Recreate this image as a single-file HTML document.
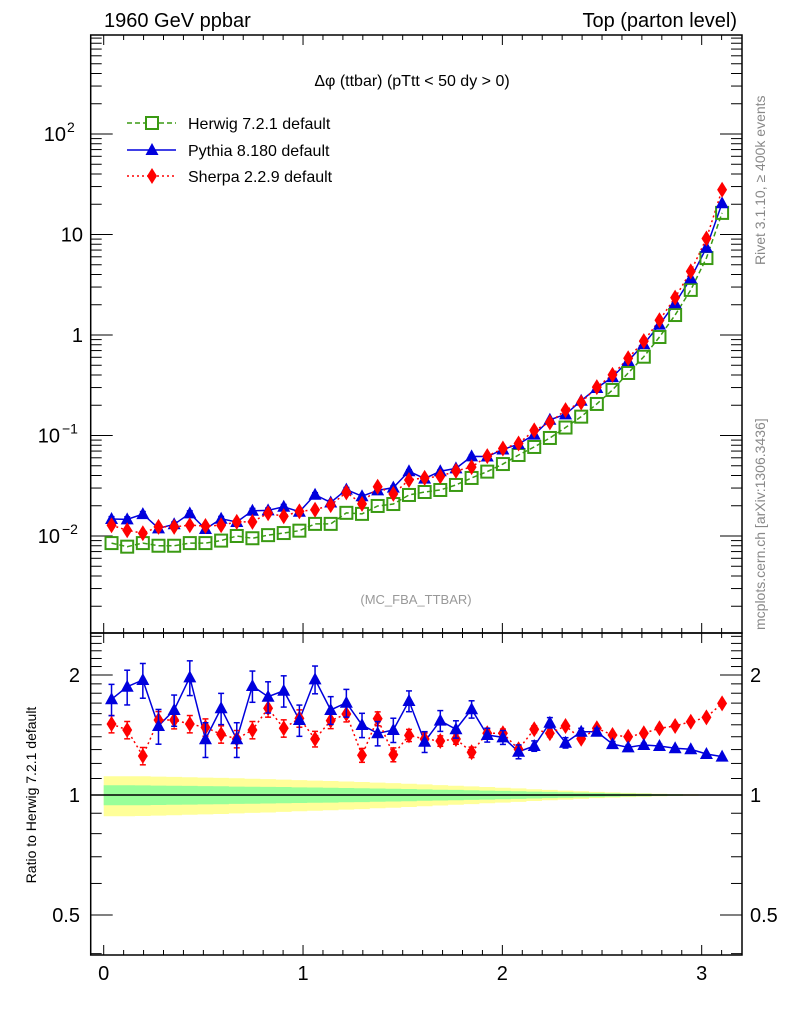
<!DOCTYPE html>
<html><head><meta charset="utf-8"><style>
html,body{margin:0;padding:0;background:#fff;}
svg{display:block;font-family:"Liberation Sans",sans-serif;}
</style></head><body>
<svg id="chart" width="786" height="1024" viewBox="0 0 786 1024" xmlns="http://www.w3.org/2000/svg">
<text x="104" y="27" font-size="20">1960 GeV ppbar</text>
<text x="737" y="27" font-size="20" text-anchor="end">Top (parton level)</text>
<text x="412" y="86" font-size="16" text-anchor="middle">Δφ (ttbar) (pTtt &lt; 50 dy &gt; 0)</text>
<text x="416" y="604" font-size="13" fill="#999" text-anchor="middle">(MC_FBA_TTBAR)</text>
<text transform="translate(765,265) rotate(-90)" font-size="14" fill="#888">Rivet 3.1.10, ≥ 400k events</text>
<text transform="translate(765,630) rotate(-90)" font-size="14" fill="#888">mcplots.cern.ch [arXiv:1306.3436]</text>
<text transform="translate(36,795) rotate(-90)" font-size="14" text-anchor="middle">Ratio to Herwig 7.2.1 default</text>
<g id="g"></g>
</svg>
<script>
const herwig=[0.0085,0.00783,0.0085,0.0080,0.0080,0.0085,0.0085,0.0090,0.0100,0.0095,0.0102,0.0107,0.0113,0.0132,0.0132,0.0170,0.0166,0.0199,0.0208,0.0256,0.0274,0.0287,0.0322,0.0378,0.0437,0.052,0.064,0.0769,0.0945,0.120,0.154,0.206,0.284,0.419,0.608,0.955,1.58,2.81,5.83,16.4];
const herwigStatErr=[0.058,0.058,0.057,0.056,0.055,0.054,0.053,0.052,0.050,0.049,0.048,0.047,0.045,0.044,0.043,0.041,0.040,0.038,0.037,0.035,0.033,0.031,0.030,0.028,0.026,0.024,0.022,0.020,0.018,0.016,0.014,0.012,0.010,0.008,0.007,0.005,0.004,0.003,0.002,0.001];
const herwigTotErr=[0.115,0.115,0.114,0.112,0.110,0.108,0.106,0.104,0.101,0.098,0.096,0.093,0.090,0.087,0.084,0.081,0.078,0.074,0.071,0.067,0.063,0.059,0.055,0.051,0.047,0.043,0.039,0.034,0.030,0.026,0.022,0.018,0.015,0.012,0.010,0.007,0.005,0.004,0.003,0.002];
const pythiaRatio=[1.738,1.869,1.943,1.490,1.634,1.973,1.380,1.650,1.380,1.877,1.764,1.826,1.542,1.950,1.634,1.704,1.498,1.428,1.456,1.721,1.360,1.536,1.462,1.641,1.414,1.395,1.284,1.327,1.518,1.352,1.441,1.441,1.342,1.317,1.335,1.327,1.310,1.302,1.267,1.248];
const pythiaErr=[0.09,0.10,0.10,0.10,0.09,0.10,0.10,0.09,0.10,0.09,0.09,0.09,0.09,0.08,0.08,0.08,0.07,0.07,0.07,0.06,0.06,0.06,0.05,0.05,0.04,0.04,0.04,0.03,0.03,0.03,0.02,0.02,0.015,0.012,0.01,0.01,0.008,0.006,0.005,0.004];
const sherpaRatio=[1.507,1.456,1.253,1.542,1.542,1.507,1.478,1.420,1.382,1.456,1.650,1.470,1.557,1.382,1.536,1.597,1.258,1.554,1.262,1.411,1.382,1.366,1.382,1.280,1.428,1.428,1.302,1.462,1.428,1.490,1.384,1.470,1.414,1.400,1.428,1.470,1.490,1.527,1.566,1.698];
const sherpaErr=[0.05,0.05,0.05,0.05,0.05,0.05,0.05,0.05,0.05,0.05,0.05,0.05,0.05,0.045,0.045,0.045,0.04,0.04,0.04,0.035,0.035,0.03,0.03,0.03,0.025,0.025,0.02,0.02,0.02,0.015,0.015,0.012,0.01,0.01,0.008,0.007,0.006,0.005,0.004,0.003];
const xTicks=[0,1,2,3];
const mainTicks=[{v:100,t:"10",e:"2"},{v:10,t:"10",e:""},{v:1,t:"1",e:""},{v:0.1,t:"10",e:"−1"},{v:0.01,t:"10",e:"−2"}];
const ratioTicks=[{v:2,t:"2"},{v:1,t:"1"},{v:0.5,t:"0.5"}];

const NS="http://www.w3.org/2000/svg";
const G=document.getElementById('g');
const L=90.7,R=742,MT=35,MB=633,RB=955;
const nb=herwig.length,bw=Math.PI/nb;
const X=v=>103.7+v*199.33;
const YM=v=>536-100.5*(Math.log10(v)+2);
const YR=v=>795-398.7*Math.log10(v);
function mk(tag,at,name,parent){const e=document.createElementNS(NS,tag);for(const k in at)e.setAttribute(k,at[k]);


(parent||G).appendChild(e);return e;}
// bands in ratio
let yel="",grn="";
let up=[],dn=[],ug=[],dg=[];
for(let i=0;i<nb;i++){const x0=X(i*bw),x1=X((i+1)*bw);
up.push([x0,YR(1+herwigTotErr[i])],[x1,YR(1+herwigTotErr[i])]);dn.push([x0,YR(1-herwigTotErr[i])],[x1,YR(1-herwigTotErr[i])]);
ug.push([x0,YR(1+herwigStatErr[i])],[x1,YR(1+herwigStatErr[i])]);dg.push([x0,YR(1-herwigStatErr[i])],[x1,YR(1-herwigStatErr[i])]);}
const poly=(a,b)=>a.concat(b.slice().reverse()).map(p=>p[0].toFixed(1)+","+p[1].toFixed(1)).join(" ");
mk('polygon',{points:poly(up,dn),fill:'#ffff99'},'herwig-total-uncertainty-band');
mk('polygon',{points:poly(ug,dg),fill:'#99ff99'},'herwig-stat-uncertainty-band');
mk('line',{x1:L,x2:R,y1:795,y2:795,stroke:'#000','stroke-width':1.5},'ratio-reference-line');
// frames
mk('rect',{x:L,y:MT,width:R-L,height:MB-MT,fill:'none',stroke:'#000','stroke-width':1.5},'main-frame');
mk('rect',{x:L,y:MB,width:R-L,height:RB-MB,fill:'none',stroke:'#000','stroke-width':1.5},'ratio-frame');
// x ticks
for(let k=-1;k<=32;k++){const v=k/10;const x=X(v);if(x<L+1||x>R-1)continue;const maj=k%10==0;const len=maj?10:5;
for(const yb of [RB,MB]){mk('line',{x1:x,x2:x,y1:yb,y2:yb-len,stroke:'#000','stroke-width':1},'x-tick');}
mk('line',{x1:x,x2:x,y1:MB,y2:MB+len,stroke:'#000','stroke-width':1},'x-tick');
mk('line',{x1:x,x2:x,y1:MT,y2:MT+len,stroke:'#000','stroke-width':1},'x-tick');}
xTicks.forEach(v=>{const t=mk('text',{x:X(v),y:980,'font-size':20,'text-anchor':'middle'},'x-tick-label');t.textContent=v;});
// main y ticks
for(let d=-3;d<=2;d++)for(let m=1;m<=9;m++){const v=m*Math.pow(10,d);const y=YM(v);if(y<MT||y>MB)continue;const len=m==1?22:11;
mk('line',{x1:L,x2:L+len,y1:y,y2:y,stroke:'#000','stroke-width':1},'y-tick');
mk('line',{x1:R,x2:R-len,y1:y,y2:y,stroke:'#000','stroke-width':1},'y-tick');}
mainTicks.forEach(o=>{const y=YM(o.v)+7;
if(o.e){const t=mk('text',{x:o.e.length>1?60:66,y:y,'font-size':20,'text-anchor':'end'},'y-tick-label');t.textContent=o.t;
const s=mk('text',{x:o.e.length>1?62:67,y:y-9,'font-size':14},'y-tick-exponent');s.textContent=o.e;}
else{const t=mk('text',{x:83,y:y,'font-size':20,'text-anchor':'end'},'y-tick-label');t.textContent=o.t;}});
// ratio y ticks
for(let v=0.4;v<=2.55;v+=0.1){const y=YR(v);if(y<MB+1||y>RB-1)continue;const maj=Math.abs(v-1)<1e-6||Math.abs(v-2)<1e-6||Math.abs(v-0.5)<1e-6;const len=maj?22:11;
mk('line',{x1:L,x2:L+len,y1:y,y2:y,stroke:'#000','stroke-width':1},'ratio-y-tick');
mk('line',{x1:R,x2:R-len,y1:y,y2:y,stroke:'#000','stroke-width':1},'ratio-y-tick');}
ratioTicks.forEach(o=>{const y=YR(o.v)+7;
let t=mk('text',{x:80,y:y,'font-size':20,'text-anchor':'end'},'ratio-y-tick-label');t.textContent=o.t;
t=mk('text',{x:750,y:y,'font-size':20},'ratio-y-tick-label-right');t.textContent=o.t;});
// series
const cx=i=>X((i+0.5)*bw);
function tri(x,y,c,name){mk('polygon',{points:`${x},${y-7} ${x-6.5},${y+5} ${x+6.5},${y+5}`,fill:c},name);}
function dia(x,y,c,name){mk('polygon',{points:`${x},${y-8} ${x-5},${y} ${x},${y+8} ${x+5},${y}`,fill:c},name);}
function sq(x,y,name){mk('rect',{x:x-6,y:y-6,width:12,height:12,fill:'none',stroke:'#3a9a13','stroke-width':2},name);}
function err(x,y1,y2,c,dash,name){mk('line',{x1:x,x2:x,y1:y1,y2:y2,stroke:c,'stroke-width':1.5,'stroke-dasharray':dash||''},name);
mk('line',{x1:x-3,x2:x+3,y1:y1,y2:y1,stroke:c,'stroke-width':1.5},name+'-cap');mk('line',{x1:x-3,x2:x+3,y1:y2,y2:y2,stroke:c,'stroke-width':1.5},name+'-cap');}
const pyth=herwig.map((h,i)=>h*pythiaRatio[i]);
const sher=herwig.map((h,i)=>h*sherpaRatio[i]);
// main lines
mk('polyline',{points:herwig.map((v,i)=>cx(i)+","+YM(v)).join(" "),fill:'none',stroke:'#3a9a13','stroke-width':1.5,'stroke-dasharray':'5,3'},'herwig-line');
mk('polyline',{points:pyth.map((v,i)=>cx(i)+","+YM(v)).join(" "),fill:'none',stroke:'#0000dd','stroke-width':1.5},'pythia-line');
mk('polyline',{points:sher.map((v,i)=>cx(i)+","+YM(v)).join(" "),fill:'none',stroke:'#ff0000','stroke-width':1.5,'stroke-dasharray':'2,3'},'sherpa-line');
herwig.forEach((v,i)=>sq(cx(i),YM(v),'herwig-point'));
pyth.forEach((v,i)=>{const e=pythiaErr[i]*0.6;err(cx(i),YM(v*(1+e)),YM(v*(1-e)),'#0000dd','','pythia-error');tri(cx(i),YM(v),'#0000dd','pythia-point');});
sher.forEach((v,i)=>dia(cx(i),YM(v),'#ff0000','sherpa-point'));
// ratio lines
mk('polyline',{points:pythiaRatio.map((v,i)=>cx(i)+","+YR(v)).join(" "),fill:'none',stroke:'#0000dd','stroke-width':1.5},'pythia-ratio-line');
mk('polyline',{points:sherpaRatio.map((v,i)=>cx(i)+","+YR(v)).join(" "),fill:'none',stroke:'#ff0000','stroke-width':1.5,'stroke-dasharray':'2,3'},'sherpa-ratio-line');
sherpaRatio.forEach((v,i)=>{const e=sherpaErr[i];err(cx(i),YR(v*(1+e)),YR(v*(1-e)),'#ff0000','2,2','sherpa-ratio-error');dia(cx(i),YR(v),'#ff0000','sherpa-ratio-point');});
pythiaRatio.forEach((v,i)=>{const e=pythiaErr[i];err(cx(i),YR(v*(1+e)),YR(v*(1-e)),'#0000dd','','pythia-ratio-error');tri(cx(i),YR(v),'#0000dd','pythia-ratio-point');});
// legend
const leg=[{n:'Herwig 7.2.1 default',y:123,c:'#3a9a13',d:'5,3'},{n:'Pythia 8.180 default',y:150,c:'#0000dd',d:''},{n:'Sherpa 2.2.9 default',y:176,c:'#ff0000',d:'2,3'}];
leg.forEach((o,k)=>{const g=mk('g',{},'legend-entry');
mk('line',{x1:127,x2:176,y1:o.y,y2:o.y,stroke:o.c,'stroke-width':1.5,'stroke-dasharray':o.d},'legend-line',g);
if(k==0)mk('rect',{x:146,y:o.y-6,width:12,height:12,fill:'#fff',stroke:o.c,'stroke-width':2},'legend-marker',g);
if(k==1)mk('polygon',{points:`152,${o.y-7} 145.5,${o.y+5} 158.5,${o.y+5}`,fill:o.c},'legend-marker',g);
if(k==2)mk('polygon',{points:`152,${o.y-8} 147,${o.y} 152,${o.y+8} 157,${o.y}`,fill:o.c},'legend-marker',g);
const t=mk('text',{x:188,y:o.y+6,'font-size':16},'legend-label',g);t.textContent=o.n;});
</script>
</body></html>
